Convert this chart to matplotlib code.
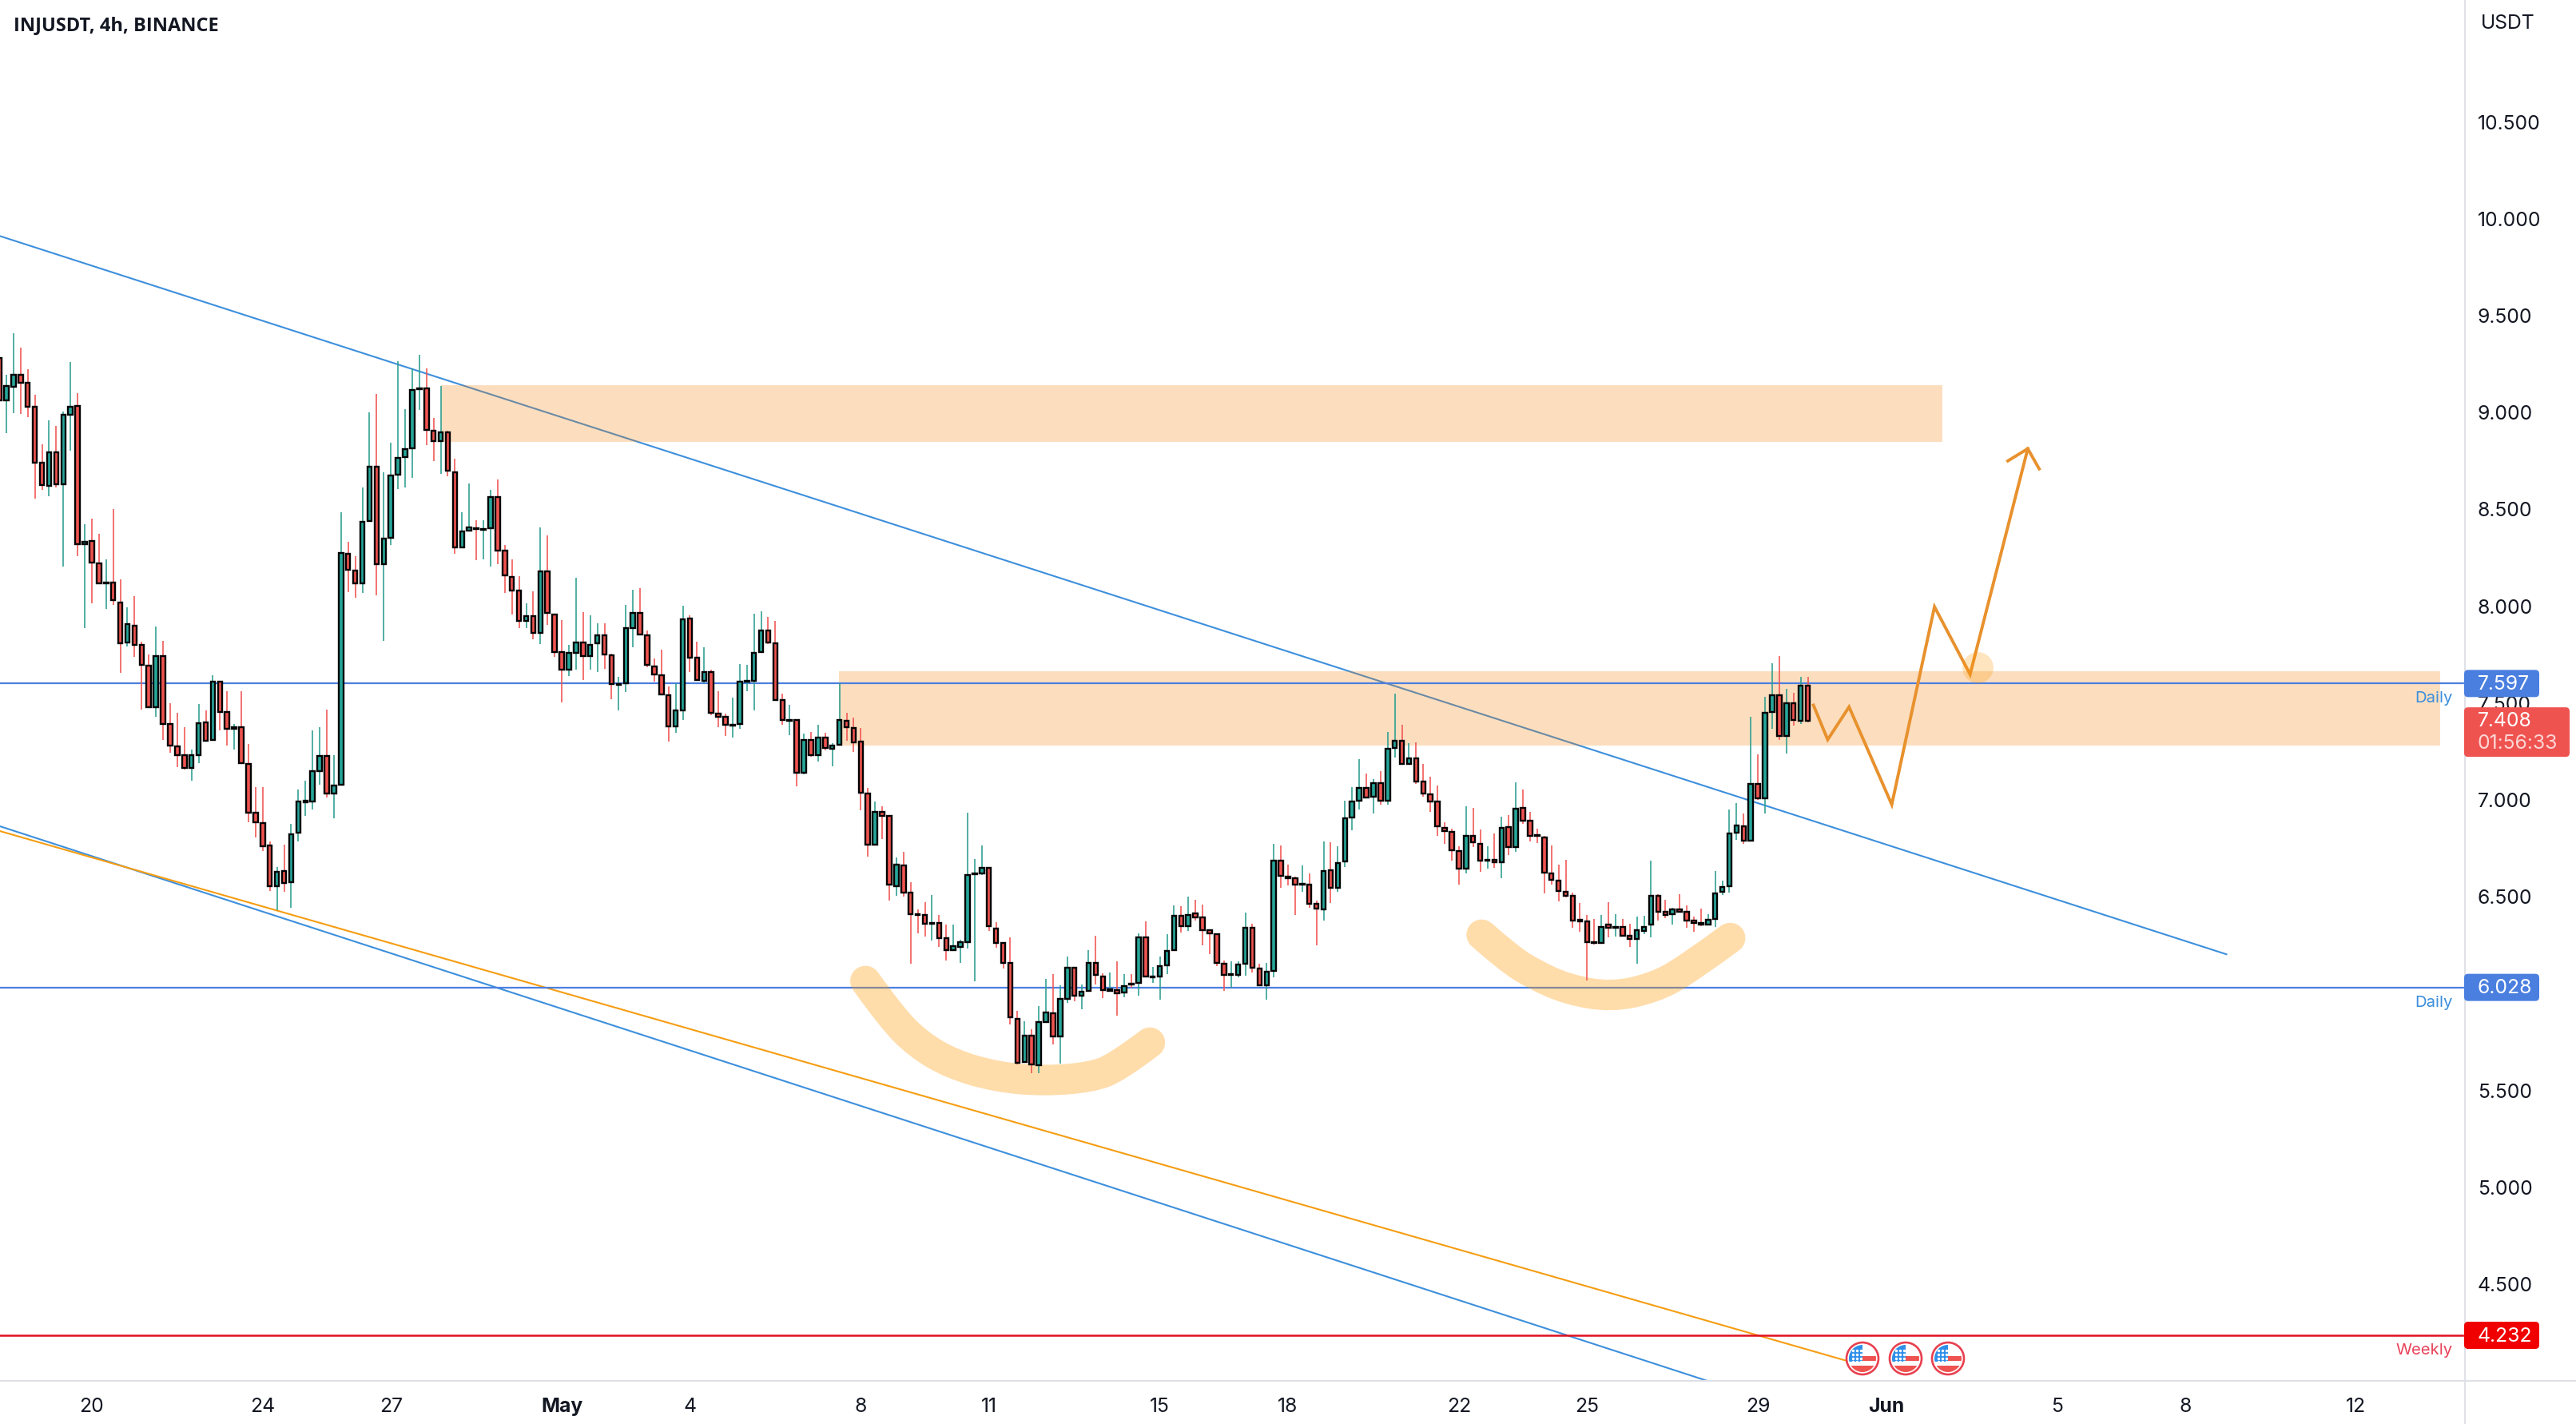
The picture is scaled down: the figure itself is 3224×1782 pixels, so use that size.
import numpy as np
import matplotlib
matplotlib.use('Agg')
import matplotlib.pyplot as plt
from matplotlib.patches import Circle, FancyBboxPatch, PathPatch, Rectangle
from matplotlib.path import Path
from matplotlib.transforms import ScaledTranslation

plt.rcParams['font.family'] = ['Inter', 'DejaVu Sans']

opens = [
    9.277, 9.060, 9.128, 9.189, 9.148, 9.024, 8.735, 8.618, 8.789, 8.626,
    8.985, 9.028, 8.317, 8.331, 8.219, 8.114, 8.120, 8.017, 7.808, 7.896,
    7.795, 7.691, 7.476, 7.737, 7.387, 7.271, 7.225, 7.160, 7.229, 7.397,
    7.307, 7.605, 7.451, 7.365, 7.371, 7.181, 6.928, 6.877, 6.760, 6.549,
    6.629, 6.570, 6.827, 6.985, 6.987, 7.145, 7.223, 7.029, 7.075, 8.265,
    8.182, 8.114, 8.434, 8.718, 8.214, 8.350, 8.673, 8.767, 8.812, 9.117,
    9.119, 8.903, 8.850, 8.894, 8.688, 8.300, 8.386, 8.400, 8.390, 8.398,
    8.560, 8.285, 8.149, 8.075, 7.920, 7.943, 7.858, 8.174, 7.954, 7.760,
    7.669, 7.756, 7.810, 7.739, 7.805, 7.847, 7.744, 7.590, 7.599, 7.884,
    7.962, 7.847, 7.686, 7.640, 7.537, 7.376, 7.459, 7.933, 7.731, 7.611,
    7.657, 7.442, 7.423, 7.379, 7.389, 7.606, 7.611, 7.760, 7.871, 7.805,
    7.512, 7.405, 7.409, 7.137, 7.306, 7.228, 7.319, 7.261, 7.282, 7.406,
    7.368, 7.296, 7.030, 6.766, 6.933, 6.912, 6.552, 6.656, 6.516, 6.405,
    6.400, 6.355, 6.362, 6.281, 6.220, 6.238, 6.263, 6.613, 6.618, 6.645,
    6.333, 6.256, 6.156, 5.867, 5.644, 5.780, 5.628, 5.850, 5.896, 5.776,
    5.970, 6.131, 5.984, 6.011, 6.156, 6.085, 6.012, 6.015, 6.003, 6.049,
    6.052, 6.285, 6.080, 6.086, 6.143, 6.219, 6.396, 6.345, 6.409, 6.388,
    6.322, 6.301, 6.151, 6.091, 6.094, 6.151, 6.334, 6.124, 6.040, 6.114,
    6.681, 6.598, 6.593, 6.559, 6.560, 6.461, 6.432, 6.634, 6.543, 6.680,
    6.906, 6.993, 7.059, 7.014, 7.084, 6.993, 7.265, 7.302, 7.183, 7.212,
    7.092, 7.026, 6.989, 6.853, 6.832, 6.733, 6.642, 6.812, 6.770, 6.681,
    6.688, 6.675, 6.857, 6.754, 6.956, 6.890, 6.815, 6.803, 6.618, 6.581,
    6.523, 6.502, 6.376, 6.370, 6.262, 6.259, 6.351, 6.337, 6.342, 6.293,
    6.280, 6.321, 6.354, 6.500, 6.417, 6.406, 6.432, 6.417, 6.372, 6.362,
    6.351, 6.383, 6.520, 6.551, 6.828, 6.861, 6.787, 7.080, 7.006, 7.451,
    7.538, 7.328, 7.497, 7.406, 7.585,
]
closes = [
    9.057, 9.131, 9.189, 9.149, 9.025, 8.736, 8.622, 8.789, 8.626, 8.983,
    9.024, 8.317, 8.327, 8.221, 8.114, 8.118, 8.027, 7.804, 7.902, 7.797,
    7.694, 7.476, 7.737, 7.387, 7.277, 7.225, 7.160, 7.225, 7.393, 7.303,
    7.605, 7.451, 7.365, 7.370, 7.187, 6.930, 6.882, 6.755, 6.549, 6.625,
    6.566, 6.818, 6.987, 6.990, 7.145, 7.223, 7.029, 7.071, 8.269, 8.185,
    8.114, 8.430, 8.718, 8.214, 8.347, 8.669, 8.762, 8.808, 9.114, 9.120,
    8.907, 8.850, 8.894, 8.695, 8.300, 8.383, 8.404, 8.394, 8.396, 8.560,
    8.283, 8.156, 8.076, 7.921, 7.943, 7.858, 8.174, 7.962, 7.760, 7.669,
    7.756, 7.810, 7.739, 7.797, 7.847, 7.748, 7.595, 7.595, 7.884, 7.962,
    7.851, 7.694, 7.645, 7.540, 7.376, 7.459, 7.929, 7.731, 7.616, 7.658,
    7.447, 7.426, 7.385, 7.383, 7.607, 7.612, 7.756, 7.871, 7.810, 7.512,
    7.409, 7.410, 7.137, 7.306, 7.228, 7.316, 7.264, 7.275, 7.407, 7.373,
    7.293, 7.034, 6.766, 6.933, 6.915, 6.560, 6.660, 6.519, 6.407, 6.401,
    6.358, 6.360, 6.284, 6.222, 6.240, 6.260, 6.607, 6.618, 6.647, 6.345,
    6.259, 6.156, 5.875, 5.640, 5.780, 5.632, 5.850, 5.900, 5.776, 5.970,
    6.131, 5.984, 6.007, 6.156, 6.094, 6.015, 6.017, 5.999, 6.035, 6.044,
    6.285, 6.083, 6.085, 6.139, 6.218, 6.396, 6.345, 6.403, 6.391, 6.323,
    6.308, 6.156, 6.094, 6.096, 6.147, 6.337, 6.131, 6.040, 6.110, 6.681,
    6.605, 6.592, 6.560, 6.564, 6.461, 6.436, 6.630, 6.543, 6.671, 6.902,
    6.989, 7.059, 7.010, 7.084, 6.993, 7.261, 7.302, 7.183, 7.212, 7.092,
    7.030, 6.989, 6.861, 6.836, 6.737, 6.642, 6.812, 6.779, 6.684, 6.686,
    6.675, 6.853, 6.754, 6.952, 6.890, 6.812, 6.810, 6.622, 6.585, 6.527,
    6.502, 6.374, 6.371, 6.263, 6.257, 6.341, 6.337, 6.342, 6.296, 6.280,
    6.324, 6.342, 6.500, 6.420, 6.402, 6.432, 6.417, 6.375, 6.362, 6.351,
    6.379, 6.515, 6.548, 6.824, 6.865, 6.787, 7.080, 7.006, 7.447, 7.538,
    7.328, 7.497, 7.410, 7.587, 7.406,
]
highs = [
    9.330, 9.190, 9.406, 9.332, 9.219, 9.087, 8.831, 8.955, 8.927, 9.000,
    9.257, 9.097, 8.419, 8.449, 8.369, 8.239, 8.499, 8.135, 7.990, 8.048,
    7.812, 7.746, 7.891, 7.817, 7.495, 7.447, 7.371, 7.256, 7.489, 7.458,
    7.640, 7.610, 7.558, 7.386, 7.558, 7.286, 7.061, 7.061, 6.781, 6.650,
    6.766, 6.871, 7.050, 7.096, 7.355, 7.370, 7.461, 7.229, 8.482, 8.328,
    8.255, 8.609, 8.996, 9.091, 8.688, 8.839, 9.259, 9.014, 9.222, 9.294,
    9.225, 8.967, 9.134, 8.900, 8.757, 8.482, 8.630, 8.441, 8.441, 8.596,
    8.651, 8.313, 8.239, 8.152, 8.012, 8.074, 8.404, 8.362, 7.957, 7.925,
    7.797, 8.142, 7.966, 7.950, 7.909, 7.909, 7.750, 7.632, 8.001, 8.083,
    8.090, 7.870, 7.726, 7.770, 7.581, 7.599, 7.998, 7.948, 7.811, 7.783,
    7.668, 7.558, 7.441, 7.524, 7.698, 7.694, 7.957, 7.970, 7.942, 7.921,
    7.544, 7.488, 7.410, 7.338, 7.347, 7.385, 7.341, 7.289, 7.600, 7.447,
    7.419, 7.368, 7.059, 6.989, 6.963, 6.917, 6.700, 6.729, 6.571, 6.431,
    6.468, 6.505, 6.402, 6.354, 6.354, 6.275, 6.931, 6.692, 6.762, 6.650,
    6.366, 6.262, 6.288, 5.907, 5.855, 5.812, 5.933, 6.073, 6.095, 6.040,
    6.186, 6.131, 6.041, 6.220, 6.296, 6.099, 6.103, 6.164, 6.098, 6.097,
    6.307, 6.367, 6.134, 6.189, 6.303, 6.450, 6.447, 6.498, 6.482, 6.457,
    6.326, 6.303, 6.168, 6.164, 6.164, 6.416, 6.358, 6.151, 6.154, 6.770,
    6.759, 6.660, 6.598, 6.658, 6.616, 6.477, 6.783, 6.777, 6.757, 6.993,
    7.062, 7.208, 7.133, 7.104, 7.146, 7.348, 7.543, 7.385, 7.290, 7.294,
    7.183, 7.117, 7.070, 6.880, 6.846, 6.757, 6.964, 6.956, 6.843, 6.758,
    6.824, 6.911, 6.919, 7.088, 7.051, 6.935, 6.849, 6.812, 6.761, 6.663,
    6.688, 6.519, 6.465, 6.403, 6.383, 6.403, 6.468, 6.406, 6.381, 6.358,
    6.395, 6.399, 6.681, 6.509, 6.482, 6.441, 6.509, 6.452, 6.392, 6.436,
    6.406, 6.629, 6.578, 6.947, 6.981, 6.926, 7.426, 7.231, 7.530, 7.703,
    7.737, 7.571, 7.550, 7.633, 7.630,
]
lows = [
    9.040, 8.888, 8.991, 8.988, 8.970, 8.551, 8.595, 8.565, 8.611, 8.199,
    8.798, 8.255, 7.884, 8.012, 8.110, 7.980, 8.001, 7.654, 7.790, 7.733,
    7.462, 7.469, 7.427, 7.307, 7.239, 7.166, 7.151, 7.096, 7.187, 7.300,
    7.300, 7.354, 7.277, 7.256, 7.180, 6.882, 6.802, 6.734, 6.524, 6.425,
    6.520, 6.440, 6.781, 6.913, 6.945, 7.075, 7.008, 6.903, 7.070, 8.067,
    8.038, 8.063, 8.430, 8.052, 7.815, 8.310, 8.599, 8.610, 8.657, 9.011,
    8.828, 8.747, 8.681, 8.668, 8.265, 8.300, 8.383, 8.235, 8.239, 8.199,
    8.214, 8.063, 7.955, 7.884, 7.881, 7.826, 7.799, 7.900, 7.733, 7.501,
    7.634, 7.667, 7.616, 7.667, 7.657, 7.671, 7.517, 7.460, 7.554, 7.785,
    7.850, 7.680, 7.605, 7.536, 7.299, 7.341, 7.409, 7.657, 7.610, 7.599,
    7.433, 7.372, 7.324, 7.316, 7.365, 7.558, 7.460, 7.755, 7.801, 7.510,
    7.382, 7.332, 7.068, 7.128, 7.217, 7.192, 7.252, 7.168, 7.278, 7.302,
    7.245, 6.942, 6.702, 6.760, 6.795, 6.475, 6.502, 6.495, 6.152, 6.306,
    6.289, 6.268, 6.238, 6.165, 6.216, 6.156, 6.227, 6.058, 6.609, 6.321,
    6.234, 6.127, 5.838, 5.629, 5.640, 5.584, 5.585, 5.850, 5.735, 5.636,
    5.949, 5.955, 5.916, 6.007, 6.041, 5.971, 6.010, 5.883, 5.975, 6.028,
    5.987, 6.080, 6.053, 5.963, 6.098, 6.216, 6.310, 6.321, 6.372, 6.244,
    6.201, 6.138, 6.010, 6.028, 6.079, 6.087, 6.103, 6.035, 5.963, 6.079,
    6.541, 6.553, 6.400, 6.520, 6.438, 6.244, 6.374, 6.465, 6.520, 6.651,
    6.840, 6.948, 7.005, 6.924, 6.972, 6.972, 7.214, 7.177, 7.179, 7.080,
    7.011, 6.933, 6.812, 6.770, 6.684, 6.560, 6.615, 6.754, 6.626, 6.640,
    6.647, 6.593, 6.713, 6.729, 6.873, 6.783, 6.774, 6.513, 6.560, 6.473,
    6.491, 6.337, 6.316, 6.062, 6.248, 6.255, 6.285, 6.289, 6.293, 6.238,
    6.152, 6.303, 6.285, 6.372, 6.386, 6.351, 6.413, 6.337, 6.317, 6.344,
    6.350, 6.342, 6.505, 6.519, 6.788, 6.771, 6.780, 6.998, 6.925, 7.365,
    7.307, 7.234, 7.378, 7.389, 7.396,
]

date_ticks = [13, 37, 55, 79, 97, 121, 139, 163, 181, 205, 223, 247, 265, 289, 307, 331]
date_labels = ['20', '24', '27', 'May', '4', '8', '11', '15', '18', '22', '25', '29', 'Jun', '5', '8', '12']
# 6.000 sits fully behind the 6.028 tag in the reference
price_ticks = [4.5, 5.0, 5.5, 6.5, 7.0, 7.5, 8.0, 8.5, 9.0, 9.5, 10.0, 10.5]

daily_top = 7.597
daily_bottom = 6.028
weekly = 4.232
last_price = 7.408

channel_top_x, channel_top_y = [0, 312.8], [9.908, 6.199]
channel_low_x, channel_low_y = [0, 240.3], [6.861, 3.992]
orange_x, orange_y = [0, 259.4], [6.836, 4.101]

zone_top = (62.05, 272.9, 8.845, 9.138)
zone_mid = (117.9, 342.8, 7.276, 7.660)

arc1_x = [121.65, 125.35, 129.06, 133.77, 140.28, 146.79, 153.30, 157.0, 161.6]
arc1_y = [6.061, 5.871, 5.735, 5.632, 5.564, 5.545, 5.564, 5.615, 5.743]
arc2_x = [208.2, 211.9, 215.6, 220.3, 226.4, 232.4, 237.0, 243.1]
arc2_y = [6.300, 6.180, 6.094, 6.017, 5.978, 6.026, 6.118, 6.283]

path_x = [254.8, 256.8, 259.8, 265.8, 271.8, 276.8, 284.9]
path_y = [7.485, 7.307, 7.476, 6.972, 7.993, 7.644, 8.809]
head_x = [282.1, 284.9, 286.5]
head_y = [8.746, 8.809, 8.705]

W, H = 3224, 1782
AXIS_X, AXIS_Y = 3085, 1727
TEXT = '#131722'
GREEN, RED = '#26a69a', '#ef5350'
BLUE_TREND, BLUE_LEVEL = '#3d8fdc', '#4a7fe0'
GRID = '#dfe1e6'
TXT_DY = 2

fig = plt.figure(figsize=(W / 100, H / 100), dpi=100, facecolor='white')
ax = fig.add_axes([0, (H - AXIS_Y) / H, AXIS_X / W, AXIS_Y / H])
ax.set_xlim(0.102, 346.3)
ax.set_ylim(4.001, 11.1255)
for s in ax.spines.values():
    s.set_visible(False)

# levels and shapes, back to front
ax.plot(channel_top_x, channel_top_y, color=BLUE_TREND, lw=1.5, zorder=1)
ax.plot(channel_low_x, channel_low_y, color=BLUE_TREND, lw=1.5, zorder=1)
ax.plot(orange_x, orange_y, color='#f59d12', lw=1.5, zorder=1)

for x0, x1, y0, y1 in [zone_top, zone_mid]:
    ax.add_patch(Rectangle((x0, y0), x1 - x0, y1 - y0, fc='#f57c00', ec='none', alpha=0.25, zorder=2))

ax.axhline(daily_top, color=BLUE_LEVEL, lw=1.6, zorder=3)
ax.axhline(daily_bottom, color=BLUE_LEVEL, lw=1.6, zorder=3)
ax.axhline(weekly, color='#e01020', lw=1.8, zorder=3)


def brush(xs, ys):
    # quadratic segments through the midpoints, so the stroke has no corners
    pts = list(zip(xs, ys))
    verts, codes = [pts[0]], [Path.MOVETO]
    for i in range(1, len(pts) - 1):
        end = pts[i + 1] if i == len(pts) - 2 else ((pts[i][0] + pts[i + 1][0]) / 2, (pts[i][1] + pts[i + 1][1]) / 2)
        verts += [pts[i], end]
        codes += [Path.CURVE3, Path.CURVE3]
    ax.add_patch(PathPatch(Path(verts, codes), fc='none', ec='#ff9800', alpha=0.33, lw=27.5,
                           capstyle='round', joinstyle='round', zorder=4))


brush(arc1_x, arc1_y)
brush(arc2_x, arc2_y)

# candles
idx = np.arange(len(opens))
o, c = np.array(opens), np.array(closes)
up = c >= o
colors = np.where(up, GREEN, RED)
wick_colors = np.where(up, '#2a9d8f', RED)
ax.vlines(idx, lows, highs, colors=wick_colors, lw=1.15, zorder=5)
ax.bar(idx, np.abs(c - o), bottom=np.minimum(o, c), width=0.62, color=colors,
       edgecolor='black', linewidth=1.7, zorder=6)

ax.plot(path_x, path_y, color='#e8912d', lw=2.8, solid_joinstyle='miter', zorder=7)
ax.plot(head_x, head_y, color='#e8912d', lw=2.8, solid_joinstyle='miter', zorder=7)
ax.scatter([277.8], [7.682], s=784, color='#ff9800', alpha=0.25, linewidths=0, zorder=7)

ax.set_xticks(date_ticks)
ax.set_xticklabels(date_labels, fontsize=17.8, color=TEXT)
for t in ax.get_xticklabels():
    if t.get_text() in ('May', 'Jun'):
        t.set_fontweight('bold')
ax.set_yticks(price_ticks)
ax.set_yticklabels(['%.3f' % p for p in price_ticks], fontsize=17.8, color=TEXT)
ax.yaxis.tick_right()
ax.tick_params(axis='x', length=0, pad=16)
ax.tick_params(axis='y', length=0, pad=11.5)
shift = ScaledTranslation(0, -1 / 100, fig.dpi_scale_trans)
for t in ax.get_yticklabels():
    t.set_transform(t.get_transform() + shift)

# overlay in pixels for the price tags, icons and labels
over = fig.add_axes([0, 0, 1, 1], zorder=10)
over.set_xlim(0, W)
over.set_ylim(H, 0)
over.axis('off')
over.patch.set_alpha(0)


def to_y(price):
    return H - ax.transData.transform((0, price))[1]


def tag(y0, y1, x1, color, rad=5):
    over.add_patch(FancyBboxPatch((AXIS_X - 1 + rad, y0 + rad), x1 - AXIS_X + 1 - 2 * rad, y1 - y0 - 2 * rad,
                                  boxstyle='round,pad=%d,rounding_size=%d' % (rad, rad),
                                  fc=color, ec='none', zorder=3))


def tag_text(y, s, color='white'):
    over.text(3101, y + 1, s, color=color, fontsize=17.8, va='center', zorder=4)


over.plot([AXIS_X, AXIS_X], [0, H], color=GRID, lw=1.6, zorder=1)
over.plot([0, W], [AXIS_Y + 0.7, AXIS_Y + 0.7], color=GRID, lw=1.6, zorder=1)

tag(to_y(daily_top) - 17, to_y(daily_top) + 17, 3178, '#4a7fe0')
tag_text(to_y(daily_top), '%.3f' % daily_top)
tag(to_y(daily_bottom) - 17, to_y(daily_bottom) + 17, 3178, '#4a7fe0')
tag_text(to_y(daily_bottom), '%.3f' % daily_bottom)
tag(to_y(weekly) - 17, to_y(weekly) + 17, 3178, '#f00000')
tag_text(to_y(weekly), '%.3f' % weekly)
tag(to_y(last_price) - 16, to_y(last_price) + 46, 3216, '#ef5350')
tag_text(to_y(last_price), '%.3f' % last_price)
tag_text(to_y(last_price) + 28, '01:56:33', '#fcd5d4')

over.text(3070, to_y(daily_top) + 19, 'Daily', color='#3d8fdc', fontsize=14.6, ha='right', va='center', zorder=4)
over.text(3070, to_y(daily_bottom) + 19, 'Daily', color='#3d8fdc', fontsize=14.6, ha='right', va='center', zorder=4)
over.text(3070, to_y(weekly) + 19, 'Weekly', color='#e8435a', fontsize=14.6, ha='right', va='center', zorder=4)

over.text(3105, 27 + TXT_DY, 'USDT', color=TEXT, fontsize=17.8, va='center')
over.text(17, 32, 'INJUSDT, 4h, BINANCE', color=TEXT, fontsize=17, fontweight='bold',
          family=['Open Sans', 'DejaVu Sans'], va='center')

# economic event flags
for cx in [2331, 2385, 2438]:
    cy = 1700
    over.add_patch(Circle((cx, cy), 20, fc='white', ec='#e8404f', lw=1.9, zorder=5))
    clip = Circle((cx, cy), 17, transform=over.transData)
    for x, y, w, h, col in [(cx - 17, cy - 17, 17, 21, '#2f8fe8'),
                            (cx, cy - 3, 17, 6, '#ef5350'),
                            (cx - 17, cy + 9, 34, 8, '#ef5350')]:
        r = over.add_patch(Rectangle((x, y), w, h, fc=col, ec='none', zorder=6))
        r.set_clip_path(clip)
    dx, dy = np.meshgrid([cx - 12, cx - 7, cx - 2], [cy - 10, cy - 5, cy, cy + 4])
    over.scatter(dx.ravel(), dy.ravel(), s=6, color='white', linewidths=0, zorder=7)

fig.savefig('out.png', dpi=100)
